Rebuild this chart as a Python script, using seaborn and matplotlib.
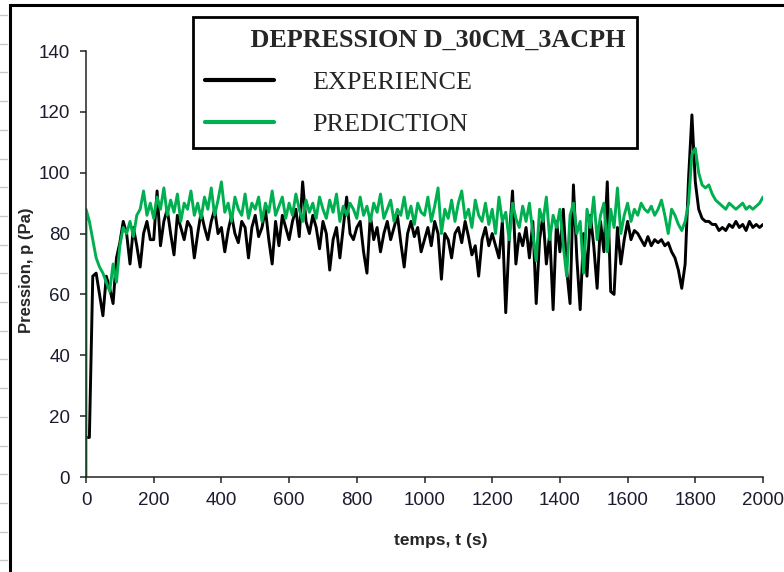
import numpy as np
import pandas as pd
import matplotlib.pyplot as plt
from matplotlib.lines import Line2D
from matplotlib.patches import Rectangle
import seaborn as sns

# --- data (pressure in Pa, every 10 s) --------------------------------------
TITLE = "DEPRESSION D_30CM_3ACPH"
SERIES = ["EXPERIENCE", "PREDICTION"]
TIME_STEP = 10
experience = [
    13, 13, 66, 67, 60, 53, 66, 62, 57, 72,
    77, 84, 80, 70, 82, 76, 69, 80, 84, 78,
    78, 94, 76, 84, 88, 80, 73, 86, 82, 78,
    84, 82, 72, 80, 87, 82, 78, 84, 88, 80,
    82, 74, 81, 86, 80, 77, 84, 82, 72, 82,
    86, 79, 82, 88, 78, 70, 84, 76, 86, 82,
    78, 84, 88, 79, 97, 84, 80, 86, 82, 75,
    84, 80, 68, 78, 82, 72, 82, 92, 80, 78,
    82, 84, 74, 67, 86, 78, 82, 74, 80, 84,
    78, 82, 86, 77, 69, 80, 84, 79, 82, 74,
    78, 82, 76, 84, 80, 65, 80, 78, 72, 80,
    82, 77, 84, 79, 73, 76, 66, 78, 82, 76,
    80, 76, 72, 84, 54, 78, 94, 70, 80, 76,
    82, 72, 84, 57, 78, 86, 70, 80, 55, 84,
    74, 88, 68, 57, 96, 72, 55, 80, 66, 86,
    76, 62, 84, 74, 97, 61, 60, 82, 70, 78,
    84, 78, 81, 80, 78, 76, 79, 76, 78, 77,
    78, 76, 77, 74, 72, 68, 62, 70, 98, 119,
    97, 88, 85, 84, 84, 83, 83, 81, 82, 81,
    83, 82, 84, 82, 83, 81, 84, 82, 83, 82, 83,
]
prediction_start = 0
prediction = [
    88, 84, 78, 72, 69, 67, 64, 61, 70, 64,
    76, 82, 80, 84, 79, 86, 88, 94, 86, 90,
    85, 92, 88, 95, 86, 91, 87, 93, 84, 90,
    88, 94, 86, 90, 85, 92, 88, 95, 86, 91,
    97, 87, 90, 84, 92, 88, 86, 93, 85, 90,
    88, 92, 84, 90, 87, 94, 86, 89, 92, 85,
    90, 86, 93, 88, 84, 91, 87, 90, 85, 92,
    88, 85, 91, 87, 93, 84, 89, 86, 90, 88,
    85, 92, 86, 89, 84, 90, 87, 93, 85, 88,
    91, 84, 88, 86, 92, 85, 89, 83, 90, 87,
    86, 92, 84, 89, 95, 80, 88, 85, 91, 84,
    90, 94, 85, 88, 82, 91, 86, 84, 90, 83,
    88, 80, 92, 84, 87, 78, 90, 85, 82, 89,
    84, 90, 80, 71, 88, 84, 92, 78, 86, 82,
    88, 76, 66, 86, 90, 80, 84, 67, 88, 82,
    92, 78, 86, 90, 74, 88, 82, 95, 80, 86,
    90, 84, 88, 86, 90, 88, 87, 89, 86, 88,
    91, 86, 80, 88, 86, 83, 81, 84, 90, 106,
    108, 100, 96, 95, 96, 93, 91, 90, 89, 88,
    90, 89, 88, 89, 90, 88, 89, 88, 89, 90, 92,
]
x_ticks = [0, 200, 400, 600, 800, 1000, 1200, 1400, 1600, 1800, 2000]
y_ticks = [0, 20, 40, 60, 80, 100, 120, 140]

t = np.arange(len(experience)) * TIME_STEP
df = pd.concat([
    pd.DataFrame({"t": t, "p": experience, "serie": SERIES[0]}),
    pd.DataFrame({"t": np.r_[0, t], "p": [prediction_start] + prediction,
                  "serie": SERIES[1]}),
], ignore_index=True)

# --- figure -------------------------------------------------------------------
sns.set_style("ticks")
plt.rcParams["font.family"] = ["Liberation Sans", "DejaVu Sans"]

W, H = 784, 572
fig = plt.figure(figsize=(W / 100, H / 100), dpi=100)
ax = fig.add_axes([86 / W, 1 - 477 / H, 677 / W, 426 / H])

sns.lineplot(data=df, x="t", y="p", hue="serie", hue_order=SERIES,
             palette={"EXPERIENCE": "black", "PREDICTION": "#00B050"},
             estimator=None, sort=False, linewidth=2.1, ax=ax)

ax.set_xlim(0, 2000)
ax.set_ylim(0, 140)
ax.set_xticks(x_ticks)
ax.set_yticks(y_ticks)
sns.despine(ax=ax)
for s in ("left", "bottom"):
    ax.spines[s].set_linewidth(1.1)
    ax.spines[s].set_color("#222222")
ax.tick_params(axis="both", direction="out", length=4.5, width=1.1,
               color="#222222", labelsize=13.5, labelcolor="#1c1c30")
ax.tick_params(axis="y", pad=7)
ax.tick_params(axis="x", pad=6)

ax.set_xlabel("temps, t (s)", fontsize=12.5, fontweight="bold")
ax.set_ylabel("Pression, p (Pa)", fontsize=12, fontweight="bold")
ax.xaxis.set_label_coords(0.524, -0.131)
ax.yaxis.set_label_coords(-0.077, 0.485)

# legend box with title
handles, labels = ax.get_legend_handles_labels()
leg = ax.legend(handles, labels, title="       " + TITLE, alignment="left",
                loc="upper left", bbox_to_anchor=(193 / W, 1 - 17 / H),
                bbox_transform=fig.transFigure, borderaxespad=0,
                prop={"family": "Liberation Serif", "size": 18.8},
                title_fontproperties={"family": "Liberation Serif",
                                      "weight": "bold", "size": 18.8},
                handlelength=2.65, handletextpad=1.45, borderpad=0.45,
                labelspacing=0.72, fancybox=False, framealpha=1,
                edgecolor="black")
leg.get_frame().set_linewidth(2)
for ln in leg.get_lines():
    ln.set_linewidth(3)

# outer frame and spreadsheet row marks of the screenshot
fig.add_artist(Rectangle((10 / W, -0.1), 1.2, 1.1 - 5 / H, fill=False,
                         edgecolor="black", linewidth=2.2,
                         transform=fig.transFigure))
for yy in np.arange(15, H, 28.7):
    fig.add_artist(Line2D([0, 7 / W], [1 - yy / H] * 2, color="#c8c8c8",
                          linewidth=1, transform=fig.transFigure))

fig.savefig("out.png", dpi=100, facecolor="white")
